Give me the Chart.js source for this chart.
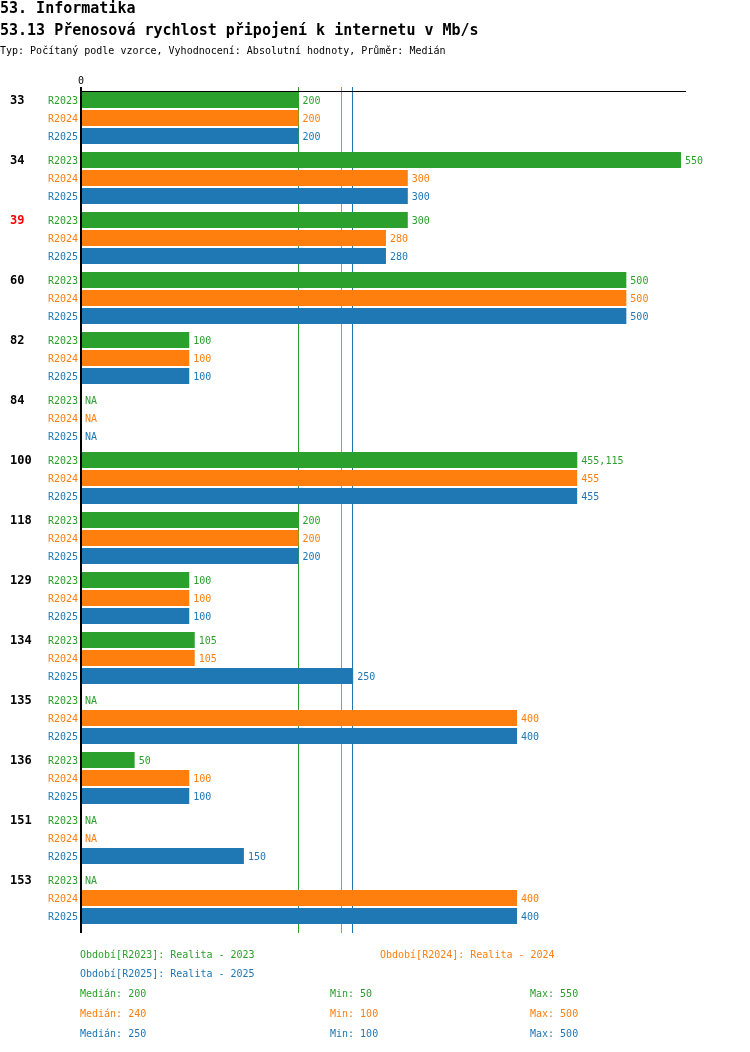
<!DOCTYPE html>
<html><head><meta charset="utf-8">
<script src="https://cdn.jsdelivr.net/npm/chart.js@4/dist/chart.umd.min.js"></script>
<style>
body{margin:0;background:#fff;width:750px;height:1052px;position:relative;overflow:hidden;font-family:"DejaVu Sans Mono",monospace;}
.t{position:absolute;white-space:pre;line-height:20px;font-size:10px;}
#c{position:absolute;left:0;top:0;width:750px;height:1052px;}
</style></head>
<body>
<canvas id="c" width="750" height="1052"></canvas>
<div class="t" style="left:0;top:-2px;font-size:15px;font-weight:bold">53. Informatika</div>
<div class="t" style="left:0;top:20px;font-size:15px;font-weight:bold">53.13 Přenosová rychlost připojení k internetu v Mb/s</div>
<div class="t" style="left:0;top:41px;">Typ: Počítaný podle vzorce, Vyhodnocení: Absolutní hodnoty, Průměr: Medián</div>
<div id="legend"></div>
<script>
// ---- data ----
const categories = ['33','34','39','60','82','84','100','118','129','134','135','136','151','153'];
const highlightedCategories = ['39'];
const seriesNames = ['R2023','R2024','R2025'];
const seriesTitles = ['Realita - 2023','Realita - 2024','Realita - 2025'];
const r2023 = [200,550,300,500,100,null,455.115,200,100,105,null,50,null,null];
const r2024 = [200,300,280,500,100,null,455,200,100,105,400,100,null,400];
const r2025 = [200,300,280,500,100,null,455,200,100,250,400,100,150,400];
const medians = [200,240,250];
const mins = [50,100,100];
const maxs = [550,500,500];
const xTicks = [0];
const colors = ['#2ca02c','#ff7f0e','#1f77b4'];

const seriesData = [r2023, r2024, r2025];
const fmt = v => String(v).replace('.', ',');

// legend / stats as HTML text
const lg = document.getElementById('legend');
function addText(txt, left, top, color){
  const d = document.createElement('div');
  d.className = 't'; d.textContent = txt;
  d.style.left = left + 'px'; d.style.top = top + 'px'; d.style.color = color;
  lg.appendChild(d);
}
addText('Období[' + seriesNames[0] + ']: ' + seriesTitles[0], 80, 945, colors[0]);
addText('Období[' + seriesNames[1] + ']: ' + seriesTitles[1], 380, 945, colors[1]);
addText('Období[' + seriesNames[2] + ']: ' + seriesTitles[2], 80, 964, colors[2]);
for (let i = 0; i < 3; i++) {
  const top = 984 + i * 20;
  addText('Medián: ' + fmt(medians[i]), 80, top, colors[i]);
  addText('Min: ' + fmt(mins[i]), 330, top, colors[i]);
  addText('Max: ' + fmt(maxs[i]), 530, top, colors[i]);
}

const FONT = '"DejaVu Sans Mono", monospace';

const decor = {
  id: 'decor',
  beforeDatasetsDraw(chart) {
    const ctx = chart.ctx;
    const xs = chart.scales.x;
    ctx.save();
    ctx.lineWidth = 1;
    medians.forEach((m, i) => {
      const px = Math.round(xs.getPixelForValue(m)) - 0.5;
      ctx.strokeStyle = colors[i];
      ctx.beginPath(); ctx.moveTo(px, 87); ctx.lineTo(px, 933); ctx.stroke();
    });
    ctx.restore();
  },
  afterDatasetsDraw(chart) {
    const ctx = chart.ctx;
    const xs = chart.scales.x;
    const x0 = xs.getPixelForValue(0);
    ctx.save();
    // top axis line
    ctx.lineWidth = 1;
    ctx.strokeStyle = '#000';
    ctx.beginPath(); ctx.moveTo(x0, 91.5); ctx.lineTo(chart.chartArea.right, 91.5); ctx.stroke();
    // left axis line
    ctx.fillStyle = '#000';
    ctx.fillRect(x0, 87, 2, 846);
    // x tick label
    ctx.font = '10px ' + FONT;
    ctx.textAlign = 'center'; ctx.textBaseline = 'middle';
    xTicks.forEach(t => ctx.fillText(fmt(t), xs.getPixelForValue(t) + 1, 81));
    // labels
    chart.data.datasets.forEach((ds, di) => {
      const meta = chart.getDatasetMeta(di);
      meta.data.forEach((el, i) => {
        const y = el.y;
        ctx.font = '10px ' + FONT;
        ctx.fillStyle = colors[di];
        ctx.textBaseline = 'middle';
        ctx.textAlign = 'right';
        ctx.fillText(seriesNames[di], 78, y + 1);
        ctx.textAlign = 'left';
        const v = ds.data[i];
        if (v === null || v === undefined) {
          ctx.fillText('NA', x0 + 5, y + 1);
        } else {
          ctx.fillText(fmt(v), el.x + 4, y + 1);
        }
        if (di === 0) {
          ctx.font = 'bold 12px ' + FONT;
          ctx.fillStyle = highlightedCategories.includes(categories[i]) ? '#ff0000' : '#000';
          ctx.fillText(categories[i], 10, y + 1);
        }
      });
    });
    ctx.restore();
  }
};

new Chart(document.getElementById('c'), {
  type: 'bar',
  data: {
    labels: categories,
    datasets: seriesData.map((d, i) => ({
      label: seriesNames[i],
      data: d,
      backgroundColor: colors[i],
      borderWidth: 0,
      barPercentage: 16 / 18,
      categoryPercentage: 0.9
    }))
  },
  options: {
    indexAxis: 'y',
    responsive: false,
    animation: false,
    devicePixelRatio: 1,
    layout: { padding: { left: 80, right: 64, top: 88, bottom: 124 } },
    plugins: { legend: { display: false }, tooltip: { enabled: false }, title: { display: false } },
    scales: {
      x: { display: false, min: 0, max: 554.6 },
      y: { display: false, offset: true }
    }
  },
  plugins: [decor]
});
</script>
</body></html>
